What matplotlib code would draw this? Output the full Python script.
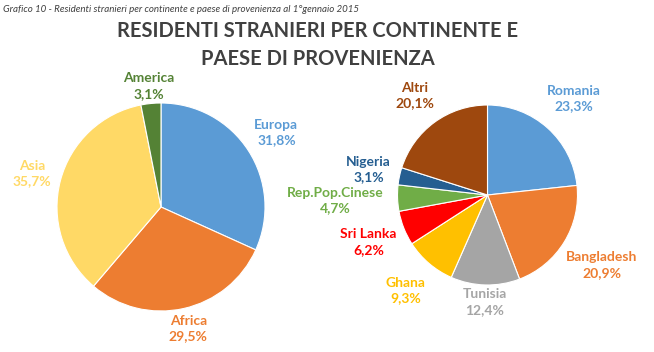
import numpy as np
import matplotlib
matplotlib.use('Agg')
from matplotlib import pyplot as plt

plt.rcParams['font.family'] = ['Lato', 'DejaVu Sans']

# left pie: continents
cont_labels = ['Europa', 'Africa', 'Asia', 'America']
cont_values = [31.8, 29.5, 35.7, 3.1]
cont_colors = ['#5B9BD5', '#ED7D31', '#FFD966', '#548235']
cont_text = ['#5B9BD5', '#ED7D31', '#FFD966', '#548235']

# right pie: countries
country_labels = ['Romania', 'Bangladesh', 'Tunisia', 'Ghana', 'Sri Lanka',
                  'Rep.Pop.Cinese', 'Nigeria', 'Altri']
country_values = [23.3, 20.9, 12.4, 9.3, 6.2, 4.7, 3.1, 20.1]
country_colors = ['#5B9BD5', '#ED7D31', '#A5A5A5', '#FFC000', '#FF0000',
                  '#70AD47', '#255E91', '#9E480E']
country_text = ['#5B9BD5', '#ED7D31', '#A5A5A5', '#FFC000', '#FF0000',
                '#70AD47', '#255E91', '#9E480E']

W, H = 654, 352
fig = plt.figure(figsize=(W / 100, H / 100), dpi=100)
ax = fig.add_axes([0, 0, 1, 1])
ax.set_xlim(0, W)
ax.set_ylim(0, H)
ax.set_aspect('equal')
ax.axis('off')


def draw_pie(values, colors, text_colors, labels, center, radius, dists):
    wedges, _ = ax.pie(values, colors=colors, startangle=90, counterclock=False,
                       center=center, radius=radius, normalize=True,
                       wedgeprops=dict(linewidth=0.8, edgecolor='white'))
    ax.set_xlim(0, W)
    ax.set_ylim(0, H)
    for w, lab, v, c, d in zip(wedges, labels, values, text_colors, dists):
        mid = np.deg2rad((w.theta1 + w.theta2) / 2)
        x = center[0] + d * radius * np.cos(mid)
        y = center[1] + d * radius * np.sin(mid)
        ax.text(x, y, lab + '\n' + ('%.1f%%' % v).replace('.', ','),
                ha='center', va='center', color=c, fontsize=10,
                fontweight='bold', linespacing=1.35)


draw_pie(cont_values, cont_colors, cont_text, cont_labels,
         (161, H - 207), 104, [1.32, 1.20, 1.28, 1.17])
draw_pie(country_values, country_colors, country_text, country_labels,
         (487.5, H - 195), 90, [1.44, 1.49, 1.19, 1.40, 1.42, 1.69, 1.35, 1.37])

fig.text(3 / W, 1 - 9 / H,
         'Grafico 10 - Residenti stranieri per continente e paese di provenienza al 1°gennaio 2015',
         ha='left', va='center', fontsize=7, style='italic', color='#404040')
fig.text(318 / W, 1 - 45 / H, 'RESIDENTI STRANIERI PER CONTINENTE E\nPAESE DI PROVENIENZA',
         ha='center', va='center', fontsize=14.5, fontweight='bold', color='#404040',
         linespacing=1.55)

fig.savefig('out.png', dpi=100)
